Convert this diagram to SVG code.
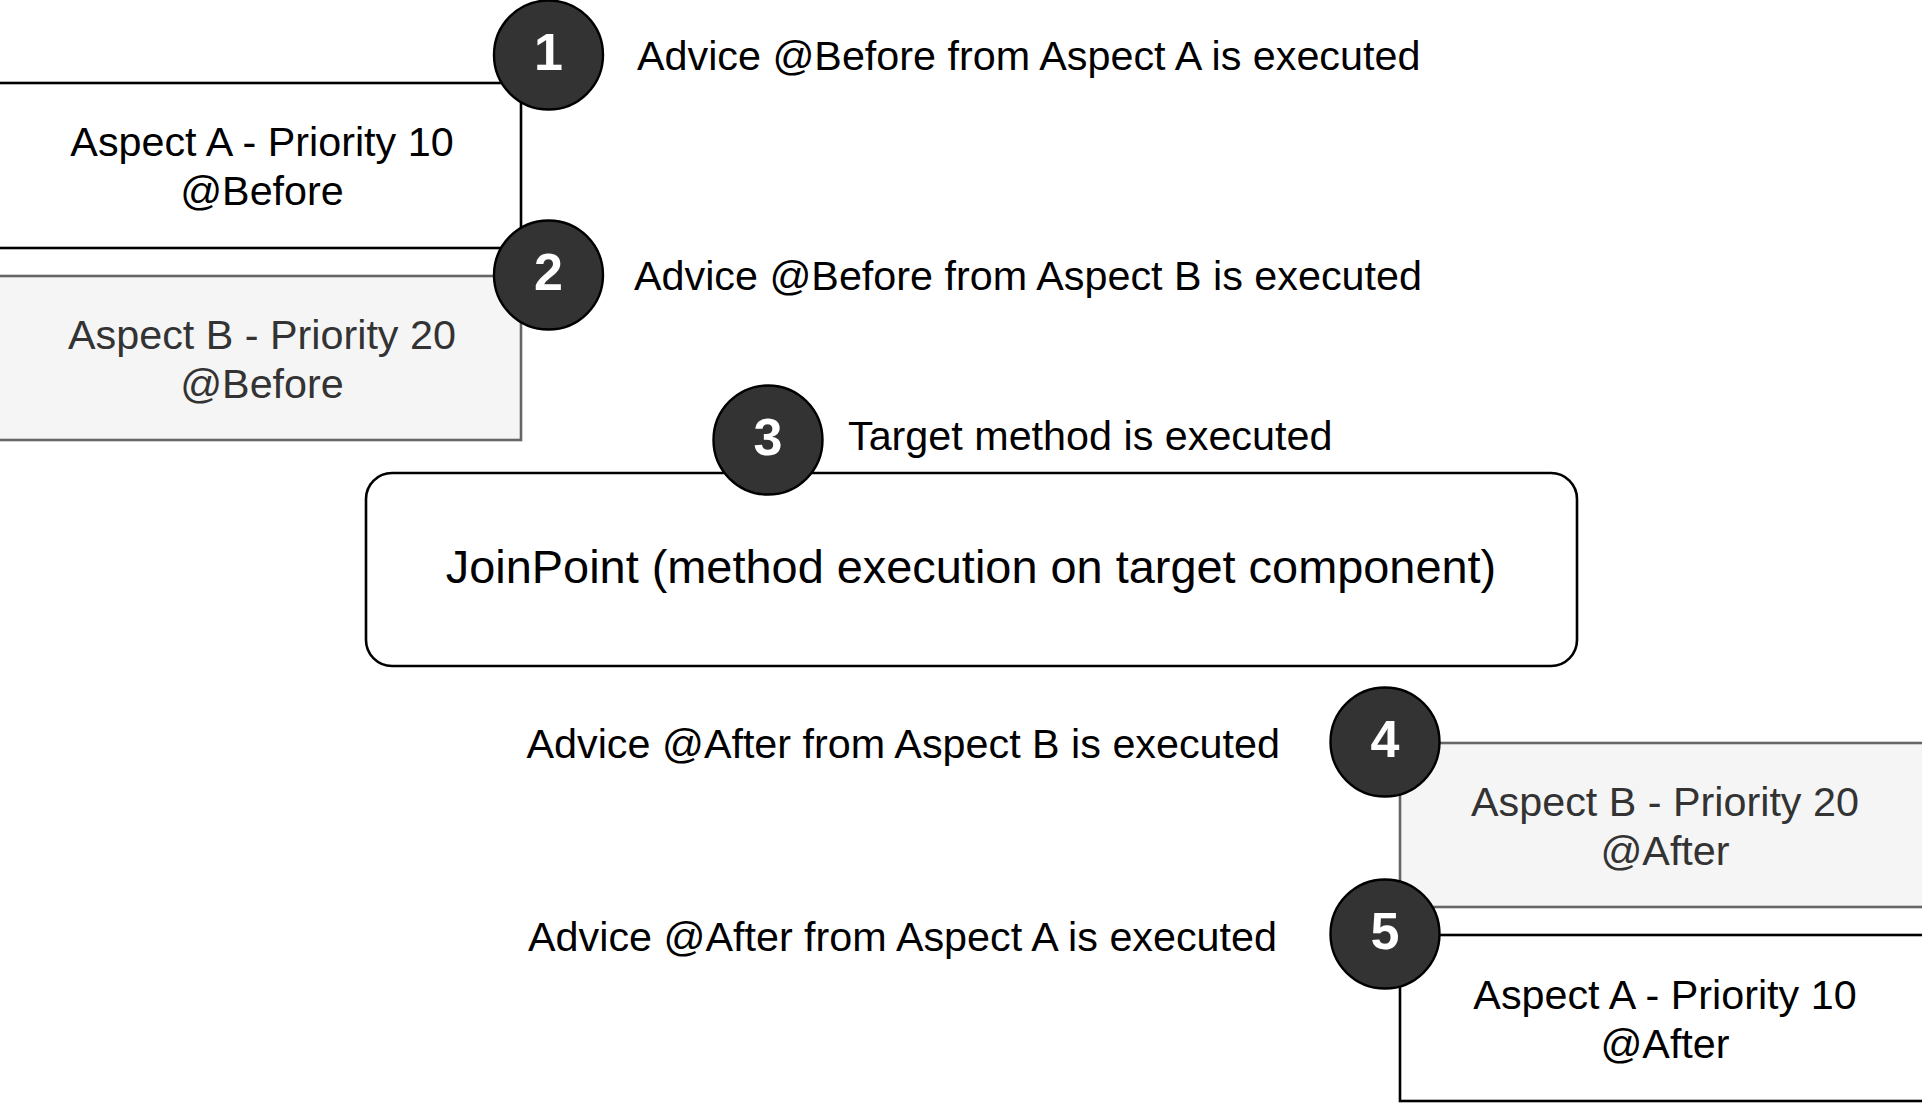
<svg xmlns="http://www.w3.org/2000/svg" width="1922" height="1115" viewBox="0 0 1922 1115">
<style>
text{font-family:"Liberation Sans",Arial,sans-serif;}
.box{fill:#ffffff;stroke:#000000;stroke-width:2.6;}
.boxg{fill:#f5f5f5;stroke:#666666;stroke-width:2.6;}
.t{font-size:41.3px;fill:#000000;text-anchor:middle;}
.tg{font-size:41.3px;fill:#333333;text-anchor:middle;}
.lbl{font-size:41.3px;fill:#000000;}
.num{fill:#333333;stroke:#000000;stroke-width:2.4;}
.nt{font-size:52px;font-weight:bold;fill:#ffffff;text-anchor:middle;}
</style>
<rect width="1922" height="1115" fill="#ffffff"/>
<g id="connectors"></g>
<g id="aspectA-before">
<rect class="box" x="-2" y="83" width="523" height="165"/>
<text class="t" x="262" y="156">Aspect A - Priority 10</text>
<text class="t" x="262" y="205">@Before</text>
</g>
<g id="aspectB-before">
<rect class="boxg" x="-2" y="276" width="523" height="164"/>
<text class="tg" x="262" y="349">Aspect B - Priority 20</text>
<text class="tg" x="262" y="398">@Before</text>
</g>
<g id="joinpoint">
<rect class="box" x="366" y="473" width="1211" height="193" rx="26" ry="26"/>
<text x="971" y="583" style="font-size:46.9px;text-anchor:middle;fill:#000">JoinPoint (method execution on target component)</text>
</g>
<g id="aspectB-after">
<rect class="boxg" x="1400" y="743" width="530" height="164"/>
<text class="tg" x="1665" y="816">Aspect B - Priority 20</text>
<text class="tg" x="1665" y="865">@After</text>
</g>
<g id="aspectA-after">
<rect class="box" x="1400" y="935" width="530" height="166"/>
<text class="t" x="1665" y="1009">Aspect A - Priority 10</text>
<text class="t" x="1665" y="1058">@After</text>
</g>
<g id="step1">
<circle class="num" cx="548.5" cy="55" r="54.5"/>
<text class="nt" x="548.5" y="70">1</text>
</g>
<g id="step2">
<circle class="num" cx="548.5" cy="275" r="54.5"/>
<text class="nt" x="548.5" y="290">2</text>
</g>
<g id="step3">
<circle class="num" cx="768" cy="440" r="54.5"/>
<text class="nt" x="768" y="455">3</text>
</g>
<g id="step4">
<circle class="num" cx="1385" cy="742" r="54.5"/>
<text class="nt" x="1385" y="757">4</text>
</g>
<g id="step5">
<circle class="num" cx="1385" cy="934" r="54.5"/>
<text class="nt" x="1385" y="949">5</text>
</g>
<g id="labels">
<text class="lbl" x="637" y="70">Advice @Before from Aspect A is executed</text>
<text class="lbl" x="634" y="290">Advice @Before from Aspect B is executed</text>
<text class="lbl" x="848" y="450">Target method is executed</text>
<text class="lbl" x="1280" y="758" text-anchor="end">Advice @After from Aspect B is executed</text>
<text class="lbl" x="1277" y="951" text-anchor="end">Advice @After from Aspect A is executed</text>
</g>
</svg>
